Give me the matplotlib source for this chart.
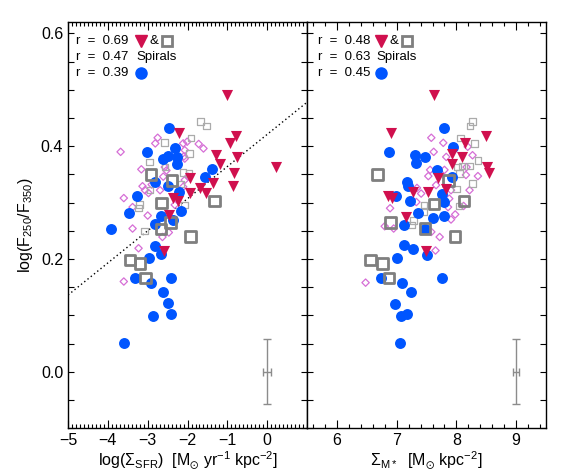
import numpy as np
import matplotlib
matplotlib.use("Agg")
import matplotlib.pyplot as plt
from matplotlib.ticker import MultipleLocator

# ==========================================
# Data
# ==========================================

# --- left panel: log(Sigma_SFR) ---
red_sfr_x = [-1.02, -2.21, -0.78, -0.93, -1.29, -0.76, -1.18, 0.22, -0.83, -1.94,
             -1.37, -0.86, -1.69, -1.54, -1.93, -2.36, -2.25, -2.47, -2.59]
red_sfr_y = [0.490, 0.424, 0.418, 0.405, 0.384, 0.381, 0.368, 0.363, 0.353, 0.343,
             0.334, 0.330, 0.325, 0.317, 0.317, 0.309, 0.303, 0.278, 0.215]

blue_sfr_x = [-2.47, -3.02, -2.32, -2.62, -2.50, -2.26, -2.26, -1.39, -1.57, -2.81,
              -2.50, -3.27, -2.21, -3.47, -2.67, -2.17, -3.92, -2.81, -2.37, -2.81,
              -2.67, -2.96, -3.33, -2.91, -2.42, -2.61, -2.50, -2.42, -2.86, -3.59]
blue_sfr_y = [0.433, 0.390, 0.397, 0.378, 0.383, 0.381, 0.369, 0.359, 0.346, 0.336,
              0.330, 0.311, 0.318, 0.281, 0.277, 0.285, 0.253, 0.262, 0.269, 0.223,
              0.209, 0.201, 0.166, 0.158, 0.166, 0.142, 0.122, 0.103, 0.098, 0.051]

dsq_sfr_x = [-2.91, -2.39, -2.65, -1.32, -2.43, -2.67, -1.93, -3.44, -3.19, -3.06]
dsq_sfr_y = [0.350, 0.339, 0.299, 0.303, 0.265, 0.253, 0.240, 0.198, 0.192, 0.166]

lsq_sfr_x = [-1.68, -1.52, -1.91, -2.58, -1.95, -2.96, -2.57, -2.11, -1.96, -2.17,
             -2.94, -3.21, -3.23, -3.08, -2.07]
lsq_sfr_y = [0.444, 0.436, 0.415, 0.407, 0.387, 0.372, 0.363, 0.353, 0.352, 0.333,
             0.322, 0.297, 0.290, 0.250, 0.296]

dia_sfr_x = [-3.68, -2.75, -2.81, -2.11, -2.01, -1.72, -1.60, -2.07, -2.09, -3.16,
             -2.57, -2.53, -2.61, -2.07, -2.90, -3.13, -3.07, -2.98, -2.69, -3.60,
             -2.11, -1.99, -3.38, -3.00, -3.38, -2.47, -2.63, -3.23, -3.60, -2.32, -2.07]
dia_sfr_y = [0.390, 0.415, 0.405, 0.405, 0.408, 0.404, 0.396, 0.393, 0.382, 0.359,
             0.363, 0.357, 0.346, 0.340, 0.332, 0.329, 0.322, 0.317, 0.322, 0.308,
             0.328, 0.346, 0.292, 0.277, 0.254, 0.247, 0.239, 0.219, 0.160, 0.296, 0.378]

# --- right panel: Sigma_M* ---
red_m_x = [7.63, 6.90, 8.49, 8.15, 7.92, 8.09, 7.93, 8.52, 8.54, 7.70,
           7.83, 7.52, 7.27, 6.86, 6.92, 7.15, 7.49]
red_m_y = [0.490, 0.424, 0.419, 0.405, 0.387, 0.381, 0.369, 0.364, 0.353, 0.343,
           0.324, 0.319, 0.319, 0.312, 0.308, 0.275, 0.215]

blue_m_x = [7.80, 6.88, 7.94, 7.30, 7.48, 7.32, 7.68, 7.93, 7.18, 7.19,
            6.99, 7.76, 7.22, 7.80, 7.35, 7.60, 7.79, 7.12, 7.48, 7.12,
            7.27, 7.00, 7.50, 6.73, 7.09, 7.76, 7.24, 6.98, 7.07, 7.17, 7.05]
blue_m_y = [0.433, 0.389, 0.398, 0.384, 0.380, 0.370, 0.358, 0.346, 0.336, 0.329,
            0.311, 0.316, 0.303, 0.301, 0.281, 0.273, 0.277, 0.260, 0.254, 0.224,
            0.218, 0.201, 0.207, 0.167, 0.158, 0.167, 0.142, 0.120, 0.098, 0.103, 0.051]

dsq_m_x = [6.68, 7.87, 7.63, 8.13, 6.90, 7.47, 7.98, 6.56, 6.76, 6.87]
dsq_m_y = [0.350, 0.339, 0.298, 0.303, 0.265, 0.254, 0.240, 0.198, 0.192, 0.166]

lsq_m_x = [8.27, 8.23, 8.07, 8.30, 8.36, 8.09, 8.23, 8.02, 8.05, 8.27,
           8.00, 7.46, 7.46, 7.28, 7.25, 8.04]
lsq_m_y = [0.444, 0.436, 0.415, 0.405, 0.375, 0.365, 0.365, 0.363, 0.352, 0.334,
           0.324, 0.295, 0.284, 0.268, 0.260, 0.294]

dia_m_x = [7.58, 7.78, 8.19, 8.27, 7.62, 7.83, 7.56, 8.17, 8.36, 7.53,
           7.66, 7.34, 7.41, 8.22, 7.80, 8.16, 7.91, 7.88, 6.89, 6.80,
           6.95, 7.58, 7.72, 7.65, 6.48, 7.91, 7.98, 7.86, 8.12, 7.33]
dia_m_y = [0.415, 0.406, 0.399, 0.384, 0.390, 0.381, 0.358, 0.363, 0.347, 0.347,
           0.331, 0.326, 0.316, 0.322, 0.358, 0.349, 0.322, 0.307, 0.290, 0.258,
           0.254, 0.248, 0.239, 0.215, 0.158, 0.270, 0.279, 0.292, 0.294, 0.301]

# correlation coefficients
r_sfr = ["0.69", "0.47", "0.39"]
r_m = ["0.48", "0.63", "0.45"]

# dotted fit line (left panel)
fit_slope = 0.057
fit_icpt = 0.421

# typical error bars
err_sfr = dict(x=0.0, y=0.0, xerr=0.10, yerr=0.058)
err_m = dict(x=9.0, y=0.0, xerr=0.055, yerr=0.058)

# ==========================================
# Style
# ==========================================

RED = "#D0104E"
BLUE = "#0055FF"
VIOL = "#D66ED6"
DGREY = "#7F7F7F"
LGREY = "#ABABAB"
ERRC = "#8C8C8C"

plt.rcParams["font.family"] = ["Liberation Sans", "DejaVu Sans"]
plt.rcParams["mathtext.default"] = "regular"
plt.rcParams["axes.unicode_minus"] = True

fig, (ax1, ax2) = plt.subplots(1, 2, sharey=True, figsize=(5.67, 4.72), dpi=100)
fig.subplots_adjust(left=0.12, right=0.963, bottom=0.093, top=0.953, wspace=0)


def draw_points(ax, dx, dy, lx, ly, bx, by, sx, sy, rx, ry):
    ax.scatter(dx, dy, marker="D", s=14, facecolors="none", edgecolors=VIOL,
               linewidths=0.9, zorder=2)
    ax.scatter(lx, ly, marker="s", s=22, facecolors="none", edgecolors=LGREY,
               linewidths=0.9, zorder=2)
    ax.scatter(bx, by, marker="o", s=62, color=BLUE, linewidths=0, zorder=3)
    ax.scatter(sx, sy, marker="s", s=56, facecolors="none", edgecolors=DGREY,
               linewidths=2.0, zorder=4)
    ax.scatter(rx, ry, marker="v", s=64, color=RED, linewidths=0, zorder=5)


draw_points(ax1, dia_sfr_x, dia_sfr_y, lsq_sfr_x, lsq_sfr_y, blue_sfr_x, blue_sfr_y,
            dsq_sfr_x, dsq_sfr_y, red_sfr_x, red_sfr_y)
draw_points(ax2, dia_m_x, dia_m_y, lsq_m_x, lsq_m_y, blue_m_x, blue_m_y,
            dsq_m_x, dsq_m_y, red_m_x, red_m_y)

# fit line
xl = np.array([-5.0, 1.0])
ax1.plot(xl, fit_slope * xl + fit_icpt, linestyle=(0, (1, 2)), color="black",
         lw=1.0, zorder=1)

# error bars
for ax, e in [(ax1, err_sfr), (ax2, err_m)]:
    ax.errorbar(e["x"], e["y"], xerr=e["xerr"], yerr=e["yerr"], color=ERRC,
                lw=1.0, capsize=3, capthick=1.0, fmt="none")

# axes limits / ticks
ax1.set_xlim(-5, 1)
ax2.set_xlim(5.5, 9.5)
ax1.set_ylim(-0.1, 0.62)

ax1.set_xticks([-5, -4, -3, -2, -1, 0])
ax1.xaxis.set_minor_locator(MultipleLocator(0.1))
ax2.set_xticks([6, 7, 8, 9])
ax2.xaxis.set_minor_locator(MultipleLocator(0.2))
ax1.set_yticks([0.0, 0.2, 0.4, 0.6])
ax1.set_yticklabels(["0.0", "0.2", "0.4", "0.6"])
ax1.yaxis.set_minor_locator(MultipleLocator(0.05))

for ax in (ax1, ax2):
    ax.tick_params(which="both", direction="in", top=True, right=True,
                   labelsize=11.5, width=0.8)
    ax.tick_params(axis="x", which="major", length=6)
    ax.tick_params(axis="x", which="minor", length=3)
    ax.tick_params(axis="y", which="both", length=4)
    for s in ax.spines.values():
        s.set_linewidth(1.0)
ax2.tick_params(axis="y", labelleft=False)

ax1.set_ylabel(r"log(F$_{250}$/F$_{350}$)", fontsize=11.5)
ax1.set_xlabel(r"log($\Sigma_{SFR}$)  [M$_{\odot}$ yr$^{-1}$ kpc$^{-2}$]",
               fontsize=11.5, labelpad=1)
ax2.set_xlabel(r"$\Sigma_{M*}$  [M$_{\odot}$ kpc$^{-2}$]", fontsize=11.5,
               labelpad=1)

# ==========================================
# In-panel legend text
# ==========================================


def legend_block(ax, rvals, x0, xsym):
    ys = [0.953, 0.914, 0.874]
    for yv, rv in zip(ys, rvals):
        ax.text(x0, yv, "r  =  " + rv, transform=ax.transAxes, fontsize=9.5,
                va="center", ha="left")
    ax.plot([xsym], [ys[0]], marker="v", ms=8, color=RED, lw=0,
            transform=ax.transAxes, clip_on=False)
    ax.text(xsym + 0.035, ys[0], "&", transform=ax.transAxes, fontsize=9.5,
            va="center", ha="left")
    ax.plot([xsym + 0.11], [ys[0]], marker="s", ms=7, mfc="none", mec=DGREY,
            mew=2.0, lw=0, transform=ax.transAxes, clip_on=False)
    ax.text(xsym - 0.02, ys[1], "Spirals", transform=ax.transAxes, fontsize=9.5,
            va="center", ha="left")
    ax.plot([xsym], [ys[2]], marker="o", ms=8, color=BLUE, lw=0,
            transform=ax.transAxes, clip_on=False)


legend_block(ax1, r_sfr, 0.033, 0.305)
legend_block(ax2, r_m, 0.046, 0.31)

plt.savefig("out.png", dpi=100)
